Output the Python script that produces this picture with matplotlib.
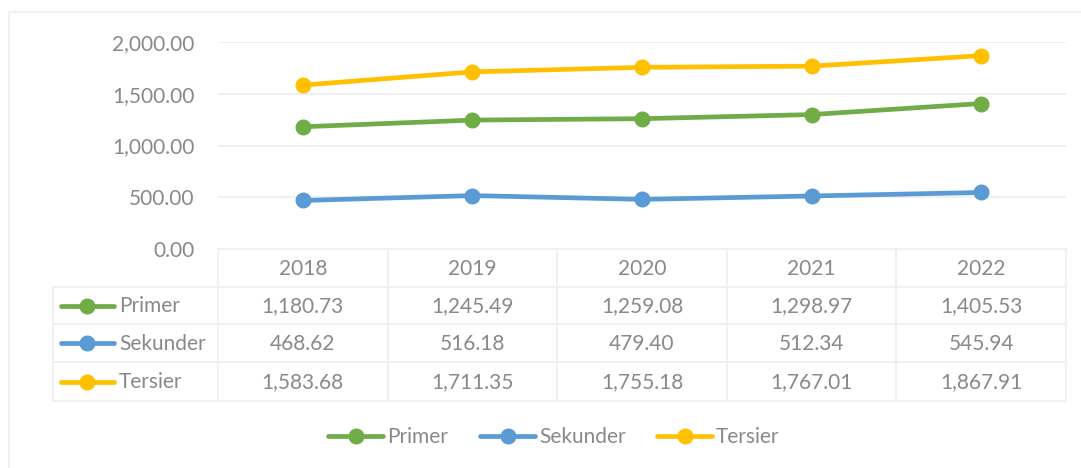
import matplotlib
matplotlib.use('Agg')
import matplotlib.pyplot as plt

# data
tahun = ['2018', '2019', '2020', '2021', '2022']
primer = [1180.73, 1245.49, 1259.08, 1298.97, 1405.53]
sekunder = [468.62, 516.18, 479.40, 512.34, 545.94]
tersier = [1583.68, 1711.35, 1755.18, 1767.01, 1867.91]
nama_seri = ['Primer', 'Sekunder', 'Tersier']
yticks = [0, 500, 1000, 1500, 2000]

warna = ['#70AD47', '#5B9BD5', '#FFC000']
abu = '#898989'
garis = '#F0F0F0'
fs = 15

plt.rcParams['font.family'] = ['Lato', 'DejaVu Sans']
W, H = 1081, 468
fig = plt.figure(figsize=(W / 100, H / 100), dpi=100)

# overlay axes in pixel coords for table / legend / border
bg = fig.add_axes([0, 0, 1, 1])
bg.set_xlim(0, W)
bg.set_ylim(H, 0)
bg.axis('off')

# plot area
x0, x1 = 218, 1066
ytop, ybot = 42, 249
ax = fig.add_axes([x0 / W, 1 - ybot / H, (x1 - x0) / W, (ybot - ytop) / H])
ax.set_xlim(-0.5, len(tahun) - 0.5)
ax.set_ylim(0, 2000)
ax.set_yticks(yticks)
ax.set_yticklabels(['{:,.2f}'.format(v) for v in yticks])
ax.set_xticks([])
ax.tick_params(axis='y', length=0, pad=17, labelsize=fs, labelcolor=abu)
for s in ax.spines.values():
    s.set_visible(False)
ax.grid(axis='y', color=garis, linewidth=1.5)
ax.set_axisbelow(True)

semua = [primer, sekunder, tersier]
xs = range(len(tahun))
for data, c in zip(semua, warna):
    ax.plot(xs, data, color=c, linewidth=3.4, marker='o', markersize=10.5,
            solid_capstyle='round', clip_on=False, zorder=3)

# chart outer border (left and top only visible)
bg.plot([9, 9, W], [H, 12, 12], color='#F2F2F2', linewidth=1.5)

# data table
kol = [x0 + i * (x1 - x0) / len(tahun) for i in range(len(tahun) + 1)]
baris = [249, 287, 324, 362, 401]
leg_x = 53
# horizontal lines
bg.plot([x0, x1], [baris[0], baris[0]], color=garis, linewidth=1.3)
for yy in baris[1:]:
    bg.plot([leg_x, x1], [yy, yy], color=garis, linewidth=1.3)
for xx in kol:
    bg.plot([xx, xx], [baris[0], baris[-1]], color=garis, linewidth=1.3)
bg.plot([leg_x, leg_x], [baris[1], baris[-1]], color=garis, linewidth=1.3)

for i, t in enumerate(tahun):
    cx = (kol[i] + kol[i + 1]) / 2
    bg.text(cx, (baris[0] + baris[1]) / 2 + 1, t, ha='center', va='center',
            fontsize=fs, color=abu)
for r, (nama, data, c) in enumerate(zip(nama_seri, semua, warna)):
    cy = (baris[r + 1] + baris[r + 2]) / 2 + 1
    bg.plot([61, 114], [cy - 1, cy - 1], color=c, linewidth=3.4,
            solid_capstyle='round')
    bg.plot([87], [cy - 1], marker='o', color=c, markersize=10.5)
    bg.text(119, cy, nama, ha='left', va='center', fontsize=fs, color=abu)
    for i, v in enumerate(data):
        cx = (kol[i] + kol[i + 1]) / 2
        bg.text(cx, cy, '{:,.2f}'.format(v), ha='center', va='center',
                fontsize=fs, color=abu)

# legend below
leg_pos = [328, 480, 657]
ly = 436
for lx, nama, c in zip(leg_pos, nama_seri, warna):
    bg.plot([lx, lx + 55], [ly, ly], color=c, linewidth=3.4,
            solid_capstyle='round')
    bg.plot([lx + 28], [ly], marker='o', color=c, markersize=10.5)
    bg.text(lx + 59, ly + 1, nama, ha='left', va='center', fontsize=fs,
            color=abu)

fig.savefig('out.png', dpi=100, facecolor='white')
